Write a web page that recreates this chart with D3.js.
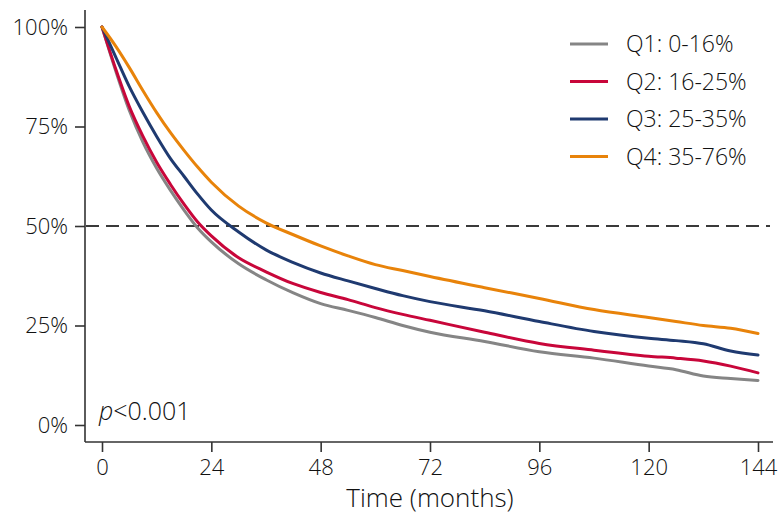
<!DOCTYPE html>
<html>
<head>
<meta charset="utf-8">
<script src="https://cdn.jsdelivr.net/npm/d3@7"></script>
<style>
    body { margin: 0; background: #fff; }
    text { font-family: "Open Sans", "Noto Sans", sans-serif; font-weight: 300; fill: #111; }
</style>
</head>
<body>
<div id="km-chart"></div>
<script>
/* * * * * * * * * * * * * *
*     survival curves      *
* * * * * * * * * * * * * */

// follow-up time (months)
const months = [0, 3, 6, 9, 12, 15, 18, 21, 24, 30, 36, 42, 48, 54, 60, 66, 72, 84, 96, 108, 120, 126, 132, 138, 144];

// survival (%) per quartile
const q1Values = [100, 89, 79, 71, 64.5, 59, 54, 49.5, 46, 40.5, 36.5, 33.2, 30.5, 28.8, 27, 25, 23.3, 21, 18.4, 16.8, 14.8, 13.9, 12.3, 11.7, 11.2];
const q2Values = [100, 89.5, 80, 72.5, 66, 60.5, 55.5, 51, 47.5, 42, 38.5, 35.5, 33.3, 31.5, 29.5, 27.8, 26.3, 23.3, 20.5, 18.8, 17.3, 16.8, 16.1, 14.8, 13.1];
const q3Values = [100, 92.5, 85, 78.5, 72.5, 67, 62.5, 58, 54, 48.5, 44, 40.8, 38.2, 36.2, 34.3, 32.5, 31, 28.7, 26, 23.5, 21.8, 21.2, 20.4, 18.6, 17.6];
const q4Values = [100, 95.2, 89.8, 84, 78.5, 73.5, 69, 64.8, 61, 55, 50.8, 47.8, 45, 42.5, 40.3, 38.8, 37.3, 34.5, 31.8, 29, 27, 26, 25, 24.3, 23];

const seriesNames = ["Q1: 0-16%", "Q2: 16-25%", "Q3: 25-35%", "Q4: 35-76%"];
const seriesColors = ["#858585", "#c8063a", "#1f3a70", "#e8830a"];

const xTicks = [0, 24, 48, 72, 96, 120, 144];
const yTicks = [0, 25, 50, 75, 100];


class KMCurveVis {

    constructor(parentElement) {
        this.parentElement = parentElement;
        this.initVis();
    }

    initVis () {
        let vis = this;

        vis.width = 784;
        vis.height = 517;

        vis.svg = d3.select("#" + vis.parentElement).append("svg")
            .attr("width", vis.width)
            .attr("height", vis.height);

        // scales
        vis.x = d3.scaleLinear().domain([0, 144]).range([102, 758]);
        vis.y = d3.scaleLinear().domain([0, 100]).range([425, 27]);

        vis.wrangleData();
    }

    wrangleData () {
        let vis = this;

        let allValues = [q1Values, q2Values, q3Values, q4Values];
        vis.series = seriesNames.map((name, i) => ({
            name: name,
            color: seriesColors[i],
            points: months.map((m, j) => ({month: m, value: allValues[i][j]}))
        }));

        vis.updateVis();
    }

    updateVis () {
        let vis = this;

        // y axis
        vis.svg.append("g")
            .attr("class", "y-axis")
            .attr("transform", "translate(85,0)")
            .call(d3.axisLeft(vis.y).tickValues(yTicks).tickSize(10).tickPadding(7)
                .tickFormat(d => d + "%"))
            .call(g => g.select(".domain").attr("d", "M0,10V442"));

        // x axis
        vis.svg.append("g")
            .attr("class", "x-axis")
            .attr("transform", "translate(0,442)")
            .call(d3.axisBottom(vis.x).tickValues(xTicks).tickSize(10).tickPadding(7))
            .call(g => g.select(".domain").attr("d", "M85,0H773"));

        vis.svg.selectAll(".domain, .tick line")
            .attr("stroke", "#333")
            .attr("stroke-width", 1.6);
        vis.svg.selectAll(".tick text")
            .style("font-size", "22px")
            .attr("fill", "#111");

        // median reference line
        vis.svg.append("line")
            .attr("x1", 86)
            .attr("x2", 770)
            .attr("y1", vis.y(50))
            .attr("y2", vis.y(50))
            .attr("stroke", "#3a3a3a")
            .attr("stroke-width", 2)
            .attr("stroke-dasharray", "13,7");

        // curves
        let line = d3.line()
            .x(d => vis.x(d.month))
            .y(d => vis.y(d.value))
            .curve(d3.curveMonotoneX);

        vis.svg.selectAll(".km-line")
            .data(vis.series)
            .enter()
            .append("path")
            .attr("class", "km-line")
            .attr("fill", "none")
            .attr("stroke", d => d.color)
            .attr("stroke-width", 3)
            .attr("stroke-linejoin", "round")
            .attr("stroke-linecap", "round")
            .attr("d", d => line(d.points));

        // legend
        let legend = vis.svg.selectAll(".legend-item")
            .data(vis.series)
            .enter()
            .append("g")
            .attr("class", "legend-item")
            .attr("transform", (d, i) => `translate(570, ${44 + i * 37.5})`);

        legend.append("line")
            .attr("x1", 0)
            .attr("x2", 38)
            .attr("stroke", d => d.color)
            .attr("stroke-width", 3);

        legend.append("text")
            .attr("x", 56)
            .attr("dy", "0.35em")
            .style("font-size", "23px")
            .text(d => d.name);

        // p-value
        let pText = vis.svg.append("text")
            .attr("x", 99)
            .attr("y", 420)
            .style("font-size", "25px");
        pText.append("tspan").style("font-style", "italic").text("p");
        pText.append("tspan").text("<0.001");

        // axis title
        vis.svg.append("text")
            .attr("x", vis.x(72))
            .attr("y", 507)
            .attr("text-anchor", "middle")
            .style("font-size", "26px")
            .text("Time (months)");
    }
}

let myKMCurveVis = new KMCurveVis("km-chart");
</script>
</body>
</html>
